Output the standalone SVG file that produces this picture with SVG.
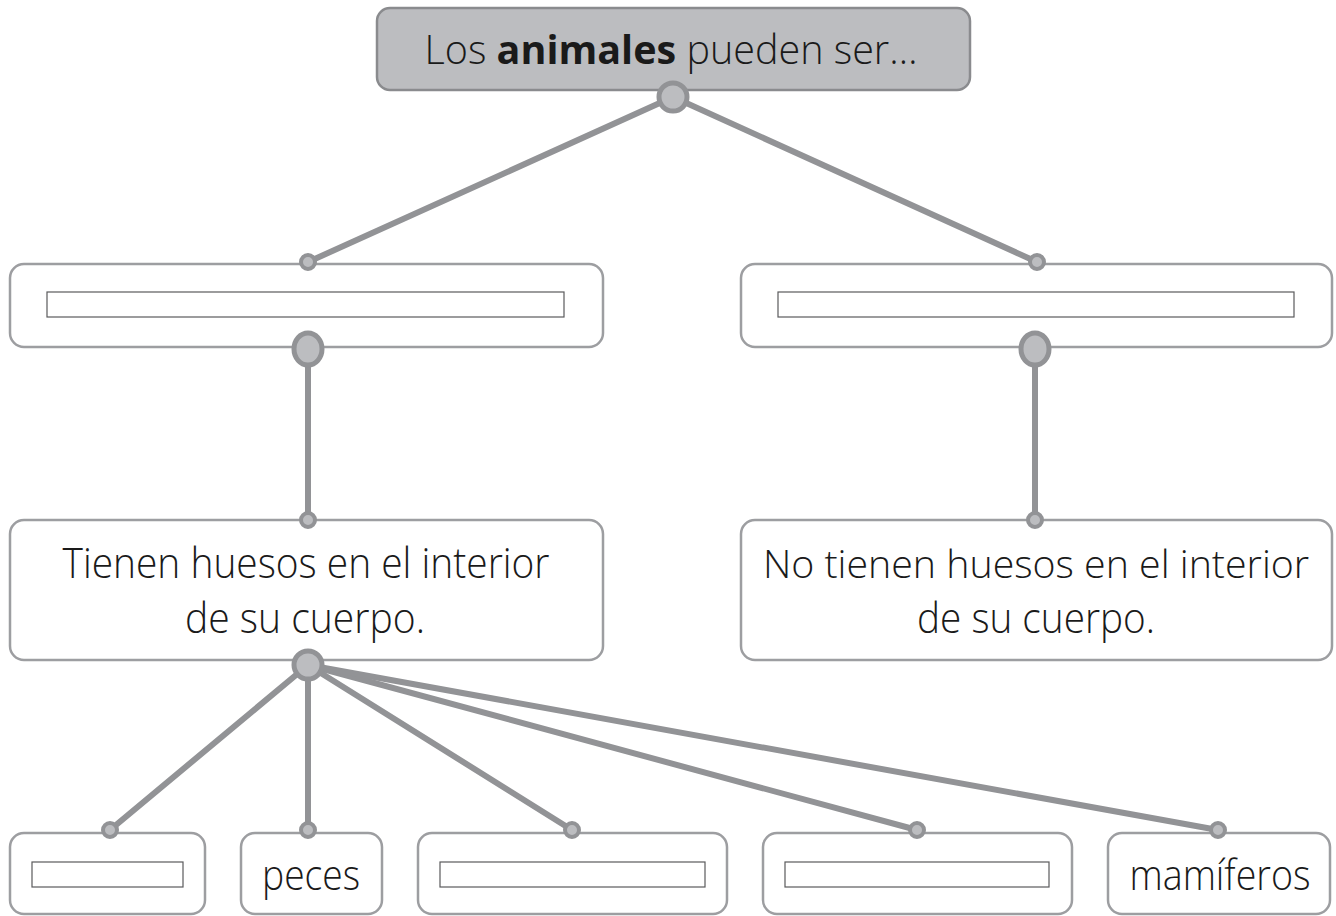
<svg xmlns="http://www.w3.org/2000/svg" width="1336" height="916" viewBox="0 0 1336 916">
<style>
.box{fill:#fff;stroke:#9d9ea1;stroke-width:2.5}
.top{fill:#bcbdc0;stroke:#8a8b8e;stroke-width:2.5}
.slot{fill:#fff;stroke:#5a5a5c;stroke-width:1.2}
.con{stroke:#929396;stroke-width:6;stroke-linecap:round;fill:none}
.dot{fill:#bcbdc0;stroke:#929396}
.t{font-family:"Open Sans","Liberation Sans",sans-serif;font-size:42px;fill:#1a1a1a;text-anchor:middle;font-weight:300}
</style>
<g id="connectors">
<line class="con" x1="673" y1="97" x2="308" y2="262"/>
<line class="con" x1="673" y1="97" x2="1037" y2="262"/>
<line class="con" x1="308" y1="349" x2="308" y2="520"/>
<line class="con" x1="1035" y1="349" x2="1035" y2="520"/>
<line class="con" x1="308" y1="665" x2="110" y2="830"/>
<line class="con" x1="308" y1="665" x2="308" y2="830"/>
<line class="con" x1="308" y1="665" x2="572" y2="830"/>
<line class="con" x1="308" y1="665" x2="917" y2="830"/>
<line class="con" x1="308" y1="665" x2="1218" y2="830"/>
</g>
<g id="n-top">
<rect class="top" x="377" y="8" width="593" height="82" rx="13"/>
<text class="t" x="671" y="64" style="font-size:40px" textLength="493" lengthAdjust="spacingAndGlyphs">Los <tspan font-weight="700" style="font-weight:700">animales</tspan> pueden ser…</text>
</g>
<g id="n-left">
<rect class="box" x="10" y="264" width="593" height="83" rx="14"/>
<rect class="slot" x="47" y="292" width="517" height="25"/>
</g>
<g id="n-right">
<rect class="box" x="741" y="264" width="591" height="83" rx="14"/>
<rect class="slot" x="778" y="292" width="516" height="25"/>
</g>
<g id="n-vert">
<rect class="box" x="10" y="520" width="593" height="140" rx="14"/>
<text class="t" x="306" y="578" textLength="487" lengthAdjust="spacingAndGlyphs">Tienen huesos en el interior</text>
<text class="t" x="305" y="633" textLength="240" lengthAdjust="spacingAndGlyphs">de su cuerpo.</text>
</g>
<g id="n-invert">
<rect class="box" x="741" y="520" width="591" height="140" rx="14"/>
<text class="t" x="1036" y="578" style="font-size:39.3px">No tienen huesos en el interior</text>
<text class="t" x="1036" y="633" textLength="238" lengthAdjust="spacingAndGlyphs">de su cuerpo.</text>
</g>
<g id="n-b1">
<rect class="box" x="10" y="833" width="195" height="81" rx="14"/>
<rect class="slot" x="32" y="862" width="151" height="25"/>
</g>
<g id="n-b2">
<rect class="box" x="241" y="833" width="141" height="81" rx="14"/>
<text class="t" x="311" y="890" textLength="98" lengthAdjust="spacingAndGlyphs">peces</text>
</g>
<g id="n-b3">
<rect class="box" x="418" y="833" width="309" height="81" rx="14"/>
<rect class="slot" x="440" y="862" width="265" height="25"/>
</g>
<g id="n-b4">
<rect class="box" x="763" y="833" width="309" height="81" rx="14"/>
<rect class="slot" x="785" y="862" width="264" height="25"/>
</g>
<g id="n-b5">
<rect class="box" x="1108" y="833" width="222" height="81" rx="14"/>
<text class="t" x="1220" y="890" textLength="181" lengthAdjust="spacingAndGlyphs">mamíferos</text>
</g>
<g id="dots">
<circle class="dot" cx="673" cy="97" r="14" stroke-width="5"/>
<circle class="dot" cx="308" cy="262" r="7" stroke-width="4"/>
<circle class="dot" cx="1037" cy="262" r="7" stroke-width="4"/>
<ellipse class="dot" cx="308" cy="349" rx="14" ry="16" stroke-width="5"/>
<ellipse class="dot" cx="1035" cy="349" rx="14" ry="16" stroke-width="5"/>
<circle class="dot" cx="308" cy="520" r="7" stroke-width="4"/>
<circle class="dot" cx="1035" cy="520" r="7" stroke-width="4"/>
<circle class="dot" cx="308" cy="665" r="14" stroke-width="5"/>
<circle class="dot" cx="110" cy="830" r="7" stroke-width="4"/>
<circle class="dot" cx="308" cy="830" r="7" stroke-width="4"/>
<circle class="dot" cx="572" cy="830" r="7" stroke-width="4"/>
<circle class="dot" cx="917" cy="830" r="7" stroke-width="4"/>
<circle class="dot" cx="1218" cy="830" r="7" stroke-width="4"/>
</g>
</svg>
